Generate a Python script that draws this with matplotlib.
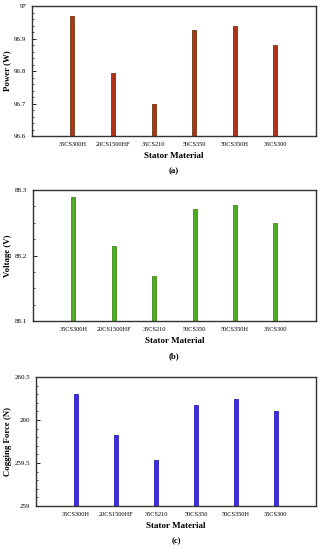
import matplotlib
matplotlib.use("Agg")
import matplotlib.pyplot as plt
from matplotlib.ticker import MultipleLocator

materials = ["35CS300H", "20CS1500HF", "35CS210", "50CS350", "50CS350H", "35CS300"]
power = [96.969, 96.795, 96.700, 96.927, 96.940, 96.879]
voltage = [88.290, 88.215, 88.169, 88.271, 88.277, 88.249]
cogging = [260.30, 259.83, 259.54, 260.18, 260.25, 260.11]

plt.rcParams['font.family'] = ['Liberation Serif', 'DejaVu Serif']

fig = plt.figure(figsize=(3.22, 5.5), dpi=100)

panels = [
    dict(rect=[0.099, 0.7527, 0.882, 0.2363], vals=power, ylim=(96.6, 97.0), major=0.1, minor=0.02,
         label="Power (W)", color="#b3321a", edge="#6b3a12", cap="(a)"),
    dict(rect=[0.1025, 0.4164, 0.878, 0.2381], vals=voltage, ylim=(88.1, 88.3), major=0.1, minor=0.025,
         label="Voltage (V)", color="#4fae1f", edge="#3f8a18", cap="(b)"),
    dict(rect=[0.112, 0.08, 0.869, 0.2345], vals=cogging, ylim=(259.0, 260.5), major=0.5, minor=0.1,
         label="Cogging Force (N)", color="#3b2fe8", edge="#2a20b0", cap="(c)"),
]

x = list(range(1, len(materials) + 1))
for p in panels:
    ax = fig.add_axes(p["rect"])
    lo, hi = p["ylim"]
    ax.bar(x, [v - lo for v in p["vals"]], bottom=lo, width=0.1, color=p["color"],
           edgecolor=p["edge"], linewidth=0.6)
    ax.set_xlim(0, 7)
    ax.set_ylim(lo, hi)
    ax.yaxis.set_major_locator(MultipleLocator(p["major"]))
    ax.yaxis.set_minor_locator(MultipleLocator(p["minor"]))
    ticks = [t for t in ax.get_yticks() if lo - 1e-9 <= t <= hi + 1e-9]
    ax.set_yticks(ticks)
    ax.set_yticklabels([f"{round(t, 3):g}" for t in ticks])
    ax.set_xticks(x)
    ax.set_xticklabels(materials, fontsize=4.6)
    ax.tick_params(axis='x', length=0, pad=4)
    ax.tick_params(axis='y', which='major', direction='in', length=3, width=0.6, labelsize=5, pad=4)
    ax.tick_params(axis='y', which='minor', direction='in', length=1.5, width=0.5)
    for s in ax.spines.values():
        s.set_linewidth(1.0)
        s.set_color("#333333")
    ax.set_ylabel(p["label"], fontsize=6.3, fontweight='bold', labelpad=2)
    ax.set_xlabel("Stator Material", fontsize=6.5, fontweight='bold', labelpad=4)
    ax.text(0.5, -0.27, p["cap"], transform=ax.transAxes, ha='center', va='center',
            fontsize=6.3, fontweight='bold')

fig.savefig("out.png", dpi=100)
